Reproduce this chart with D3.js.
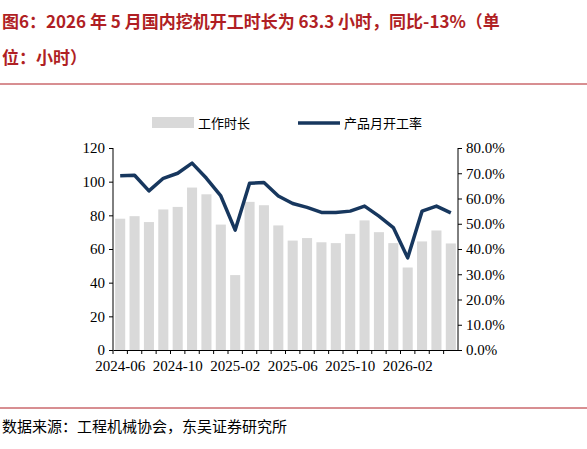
<!DOCTYPE html>
<meta charset="utf-8">
<body style="margin:0;background:#fff">
<script src="https://cdn.jsdelivr.net/npm/d3@7/dist/d3.min.js"></script>
<div id="chart"></div>
<script>
var months = ["2024-06","2024-07","2024-08","2024-09","2024-10","2024-11","2024-12","2025-01","2025-02","2025-03","2025-04","2025-05","2025-06","2025-07","2025-08","2025-09","2025-10","2025-11","2025-12","2026-01","2026-02","2026-03","2026-04","2026-05"];
var hours = [78, 79.5, 76, 83.5, 85, 96.5, 92.5, 74.5, 44.5, 88, 86, 74, 65, 66.5, 64, 63.5, 69, 77, 70, 63.5, 49, 64.5, 71, 63.3];
var rate = [69, 69.2, 63, 68, 70, 74, 68, 61, 47.5, 66, 66.3, 61, 58, 56.5, 54.5, 54.5, 55, 57, 53, 48.5, 36.5, 55, 57, 54.3];
var tickMonths = ["2024-06","2024-10","2025-02","2025-06","2025-10","2026-02"];

var W = 587, H = 449;
var svg = d3.select("#chart").append("svg").attr("width", W).attr("height", H);
var serif = "'Liberation Serif','Times New Roman',serif";
var cjk = "'Noto Sans CJK SC',sans-serif";

// title
var title = svg.append("text").attr("fill", "#b01f24").attr("font-weight", "bold").attr("font-size", 17).attr("font-family", cjk + "," + serif);
title.append("tspan").attr("x", 2).attr("y", 28).text("图6：2026 年 5 月国内挖机开工时长为 63.3 小时，同比-13%（单");
title.append("tspan").attr("x", 2).attr("y", 64).text("位：小时）");
svg.append("line").attr("x1", 0).attr("x2", W).attr("y1", 84).attr("y2", 84).attr("stroke", "#b01f24").attr("stroke-width", 1);

var pLeft = 113, pRight = 458, pTop = 148, pBottom = 350;
var x = d3.scaleBand().domain(months).range([pLeft, pRight]).paddingInner(0.3).paddingOuter(0.15);
var y = d3.scaleLinear().domain([0, 120]).range([pBottom, pTop]);
var y2 = d3.scaleLinear().domain([0, 80]).range([pBottom, pTop]);

svg.selectAll("rect.bar").data(hours).join("rect").attr("class", "bar")
  .attr("x", (d, i) => x(months[i])).attr("width", x.bandwidth())
  .attr("y", d => y(d)).attr("height", d => pBottom - y(d)).attr("fill", "#d9d9d9");

var line = d3.line().x((d, i) => x(months[i]) + x.bandwidth() / 2).y(d => y2(d));
svg.append("path").datum(rate).attr("d", line).attr("fill", "none")
  .attr("stroke", "#17375e").attr("stroke-width", 3.5).attr("stroke-linejoin", "round");

var ya = svg.append("g").attr("transform", "translate(" + pLeft + ",0)")
  .call(d3.axisLeft(y).tickValues(d3.range(0, 121, 20)).tickSize(4));
var yb = svg.append("g").attr("transform", "translate(" + pRight + ",0)")
  .call(d3.axisRight(y2).tickValues(d3.range(0, 81, 10)).tickSize(4).tickFormat(d => d.toFixed(1) + "%"));
var xa = svg.append("g").attr("transform", "translate(0," + pBottom + ")")
  .call(d3.axisBottom(x).tickValues(tickMonths).tickSize(0));
[ya, yb, xa].forEach(g => {
  g.selectAll("path,line").attr("stroke", "#000");
  g.selectAll("text").attr("font-family", serif).attr("font-size", 15).attr("fill", "#000");
});
ya.select(".domain").attr("d", "M0," + pTop + "V" + pBottom);
yb.select(".domain").attr("d", "M0," + pTop + "V" + pBottom);
ya.selectAll("text").attr("x", -8);
yb.selectAll("text").attr("x", 8);
xa.selectAll("text").attr("dy", "1.2em");
// x ticks at category boundaries
xa.selectAll("line.bt").data(months).join("line").attr("class", "bt")
  .attr("x1", d => x(d) - x.step() * x.paddingInner() / 2).attr("x2", d => x(d) - x.step() * x.paddingInner() / 2)
  .attr("y1", 0).attr("y2", 4).attr("stroke", "#000");

// legend
svg.append("rect").attr("x", 152).attr("y", 117).attr("width", 42).attr("height", 11).attr("fill", "#d9d9d9");
svg.append("text").attr("x", 198).attr("y", 128).attr("font-family", cjk).attr("font-size", 13).text("工作时长");
svg.append("line").attr("x1", 298).attr("x2", 340).attr("y1", 123).attr("y2", 123).attr("stroke", "#17375e").attr("stroke-width", 3.5);
svg.append("text").attr("x", 344).attr("y", 128).attr("font-family", cjk).attr("font-size", 13).text("产品月开工率");

svg.append("line").attr("x1", 0).attr("x2", W).attr("y1", 408).attr("y2", 408).attr("stroke", "#b01f24").attr("stroke-width", 1);
svg.append("text").attr("x", 2).attr("y", 432).attr("font-family", cjk).attr("font-size", 15).text("数据来源：工程机械协会，东吴证券研究所");
</script>
</body>
